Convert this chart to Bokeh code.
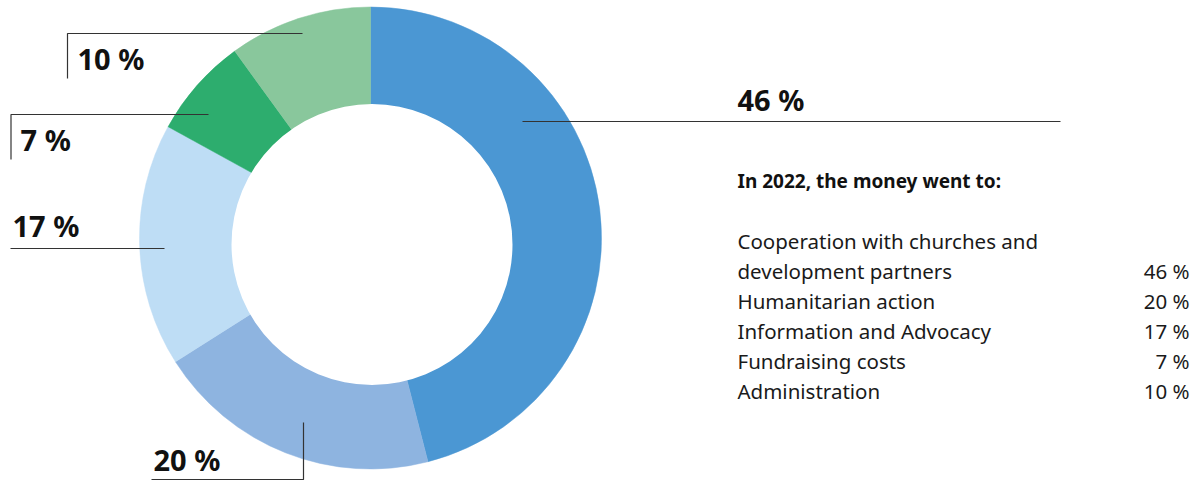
import math
from bokeh.plotting import figure
from bokeh.models import Range1d, ColumnDataSource
from bokeh.core.properties import value
from bokeh.embed import file_html
from bokeh.resources import INLINE

# ---- data ----
categories = ["Cooperation with churches and development partners",
              "Humanitarian action",
              "Information and Advocacy",
              "Fundraising costs",
              "Administration"]
shares = [46, 20, 17, 7, 10]
colors = ["#4B97D3", "#8EB4E0", "#BEDDF5", "#2DAD6E", "#89C79C"]
legend_title = "In 2022, the money went to:"
legend_rows = [["Cooperation with churches and", "development partners"],
               ["Humanitarian action"],
               ["Information and Advocacy"],
               ["Fundraising costs"],
               ["Administration"]]

W, H = 1199, 480
FONT = "Noto Sans"
TXT_SHIFT = 10  # baseline correction for text placement


def Y(iy):
    # image pixel row -> data y
    return 480 - iy


def TY(iy):
    return Y(iy - TXT_SHIFT)


p = figure(width=W, height=H, output_backend="svg", toolbar_location=None,
           x_range=Range1d(0, W), y_range=Range1d(0, H),
           min_border=0, outline_line_color=None)
p.axis.visible = False
p.grid.visible = False
p.background_fill_color = "white"

# ---- donut ----
total = sum(shares)
starts, ends = [], []
acc = 0
for s in shares:
    starts.append(math.pi / 2 - 2 * math.pi * acc / total)
    acc += s
    ends.append(math.pi / 2 - 2 * math.pi * acc / total)

src = ColumnDataSource(dict(start=starts, end=ends, color=colors,
                            cat=categories, share=shares))
p.wedge(x=370, y=Y(237.5), radius=231, start_angle="start", end_angle="end",
        direction="clock", fill_color="color", line_color="color",
        line_width=0.5, source=src)
p.circle(x=371.5, y=Y(244), radius=140.5, fill_color="white",
         line_color=None)

# ---- leader lines ----
leaders = [
    [(522, 121), (1060, 121)],
    [(303, 422), (303, 479), (151, 479)],
    [(164, 248), (10, 248)],
    [(208, 114), (10.5, 114), (10.5, 159)],
    [(302, 33), (67, 33), (67, 78)],
]
p.multi_line(xs=[[pt[0] for pt in l] for l in leaders],
             ys=[[Y(pt[1]) for pt in l] for l in leaders],
             line_color="#333333", line_width=1.2)

# ---- slice labels ----
label_x = [737, 153, 12, 20, 77]
label_y = [109, 469, 235, 149, 68]
p.text(x=label_x, y=[TY(v) for v in label_y], text=[f"{s} %" for s in shares],
       text_font=value(FONT), text_font_style="bold", text_font_size="29px",
       text_color="#111111", text_baseline="alphabetic", text_align="left")

# ---- legend block ----
p.text(x=[737], y=[TY(190)], text=[legend_title], text_font=value(FONT),
       text_font_style="bold", text_font_size="19px", text_color="#111111",
       text_baseline="alphabetic")

lx, ly, lt = [], [], []
px, py, pt = [], [], []
base = 250
row = 0
for rows, s in zip(legend_rows, shares):
    for k, line in enumerate(rows):
        lx.append(737)
        ly.append(TY(base + 30 * row))
        lt.append(line)
        if k == len(rows) - 1:
            px.append(1189)
            py.append(TY(base + 30 * row))
            pt.append(f"{s} %")
        row += 1
p.text(x=lx, y=ly, text=lt, text_font=value(FONT), text_font_size="20.5px",
       text_color="#1a1a1a", text_baseline="alphabetic")
p.text(x=px, y=py, text=pt, text_font=value(FONT), text_font_size="20.5px",
       text_color="#1a1a1a", text_baseline="alphabetic", text_align="right")

open("out.html", "w").write(file_html(p, INLINE))
